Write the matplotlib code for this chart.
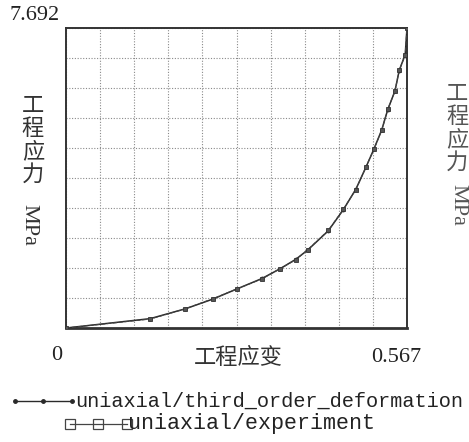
import matplotlib.pyplot as plt
import numpy as np
from matplotlib.lines import Line2D

# values (strain, MPa)
strain = [0.0, 0.140, 0.198, 0.244, 0.284, 0.326, 0.356, 0.382, 0.402, 0.436,
          0.461, 0.482, 0.499, 0.512, 0.525, 0.535, 0.547, 0.554, 0.564, 0.567]
stress_exp = [0.0, 0.23, 0.49, 0.75, 1.00, 1.26, 1.52, 1.75, 2.01, 2.50,
              3.04, 3.55, 4.14, 4.58, 5.07, 5.61, 6.07, 6.61, 7.00, 7.692]
stress_fit = [0.0, 0.24, 0.49, 0.74, 1.00, 1.27, 1.52, 1.76, 2.00, 2.49,
              3.03, 3.56, 4.13, 4.59, 5.08, 5.60, 6.08, 6.60, 7.01, 7.692]
x_max = 0.567
y_max = 7.692
label_fit = 'uniaxial/third_order_deformation'
label_exp = 'uniaxial/experiment'

W, H = 469, 442
cjk = ['Noto Sans CJK SC', 'DejaVu Sans']
serif = 'Liberation Serif'
mono = 'Liberation Mono'
ink = '#2a2a2a'

fig = plt.figure(figsize=(W / 100, H / 100), dpi=100)
ax = fig.add_axes([66 / W, 1 - 328 / H, (407 - 66) / W, (328 - 28) / H])

ax.plot(strain, stress_fit, '-', color=ink, lw=1.1, marker='.', ms=3.5, zorder=3)
ax.plot(strain, stress_exp, '--', color='#444444', lw=0.8, marker='s', ms=3.0,
        mfc='#555555', mec='#333333', mew=0.6, zorder=4)

ax.set_xlim(0, x_max)
ax.set_ylim(0, y_max)
ax.set_xticks(np.linspace(0, x_max, 11))
ax.set_yticks(np.linspace(0, y_max, 11))
ax.tick_params(length=0, labelbottom=False, labelleft=False)
ax.grid(True, color='#8a8a8a', ls=(0, (1, 1.5)), lw=0.8)
for s in ax.spines.values():
    s.set_color('#333333')
    s.set_linewidth(1.4)
ax.spines['bottom'].set_linewidth(2.0)

def px(x, y):
    return x / W, 1 - y / H

# end values of the axes
fig.text(*px(35, 16), '7.692', fontsize=16, family=serif, ha='center', va='center', color='#222222')
fig.text(*px(57, 355), '0', fontsize=16, family=serif, ha='center', va='center', color='#222222')
fig.text(*px(396, 357), '0.567', fontsize=16, family=serif, ha='center', va='center', color='#222222')

# axis titles
fig.text(*px(238, 358), '工程应变', fontsize=16, family=cjk, ha='center', va='center', color='#333333')
fig.text(*px(33, 140), '工\n程\n应\n力', fontsize=16, family=cjk, ha='center', va='center',
         linespacing=1.0, color='#333333')
fig.text(*px(29, 225), 'MPa', fontsize=16, family=serif, ha='center', va='center',
         rotation=-90, color='#333333')

# label of the neighbouring chart at the right edge
fig.text(*px(457, 128), '工\n程\n应\n力', fontsize=16, family=cjk, ha='center', va='center',
         linespacing=1.0, color='#555555')
fig.text(*px(458, 205), 'MPa', fontsize=16, family=serif, ha='center', va='center',
         rotation=-90, color='#555555')

# legend below the plot
y1, y2 = 401, 424
fig.add_artist(Line2D([15 / W, 43 / W, 72 / W], [1 - y1 / H] * 3, color=ink, lw=1.0,
                      marker='o', ms=2.5, mfc=ink, mec=ink))
fig.add_artist(Line2D([70 / W, 98 / W, 127 / W], [1 - y2 / H] * 3, color='#444444', lw=0.9,
                      marker='s', ms=6.5, mfc='none', mec='#444444', mew=0.9))
fig.text(*px(75, y1), label_fit, fontsize=14.6, family=mono, ha='left', va='center', color='#222222')
fig.text(*px(128, y2), label_exp, fontsize=15.6, family=mono, ha='left', va='center', color='#222222')

plt.savefig('out.png', dpi=100)
